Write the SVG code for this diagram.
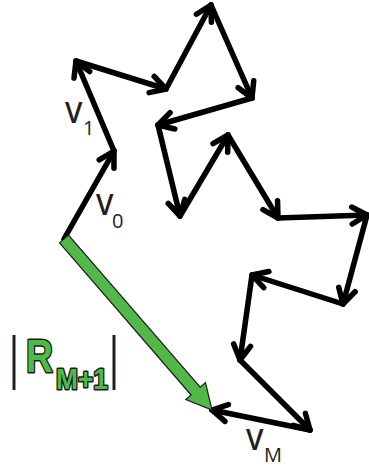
<svg xmlns="http://www.w3.org/2000/svg" width="369" height="469" viewBox="0 0 369 469">
<style>
.v{stroke:#000;stroke-width:5.5;stroke-linecap:round;fill:none;marker-end:url(#ah)}
.lbl{font-family:"Open Sans","DejaVu Sans",sans-serif;fill:#231f20;font-weight:600}
.big{font-size:28px}
.sub{font-size:20px;font-weight:normal}
.rg{font-family:"Liberation Sans","DejaVu Sans",sans-serif;font-weight:bold;fill:#4cbb47;stroke:#1a1a1a;stroke-width:3;paint-order:stroke;stroke-linejoin:round}
.bar{stroke:#231f20;stroke-width:3}
</style>
<defs>
<marker id="ah" markerUnits="userSpaceOnUse" orient="auto" markerWidth="30" markerHeight="30" refX="0" refY="0" viewBox="-20 -15 30 30" overflow="visible">
<path d="M-15,-8.5 L0,0 L-15,8.5" fill="none" stroke="#000" stroke-width="5.5" stroke-linecap="round" stroke-linejoin="round"/>
</marker>
</defs>
<g id="connectors">
<line class="v" x1="64" y1="239" x2="114" y2="151"/>
<line class="v" x1="114" y1="151" x2="76" y2="61"/>
<line class="v" x1="76" y1="61" x2="166" y2="89"/>
<line class="v" x1="166" y1="89" x2="211" y2="5"/>
<line class="v" x1="211" y1="5" x2="252" y2="98"/>
<line class="v" x1="252" y1="98" x2="158" y2="125"/>
<line class="v" x1="158" y1="125" x2="180" y2="216"/>
<line class="v" x1="180" y1="216" x2="228" y2="135"/>
<line class="v" x1="228" y1="135" x2="278" y2="218"/>
<line class="v" x1="278" y1="218" x2="367" y2="215"/>
<line class="v" x1="367" y1="215" x2="343" y2="304"/>
<line class="v" x1="343" y1="304" x2="252" y2="275"/>
<line class="v" x1="252" y1="275" x2="240" y2="360"/>
<line class="v" x1="240" y1="360" x2="310" y2="430"/>
<line class="v" x1="310" y1="430" x2="212" y2="410"/>
<polygon id="resultant" points="59.5,242.9 68.5,235.1 200.2,387.2 205.5,382.6 212,410 185.8,399.6 191.1,395.0" fill="#52b848" stroke="#1a1a1a" stroke-width="1.2" stroke-linejoin="miter"/>
</g>
<g id="label-v1" class="lbl"><text class="big" x="65" y="123">V</text><text class="sub" x="83" y="135">1</text></g>
<g id="label-v0" class="lbl"><text class="big" x="96" y="215">V</text><text class="sub" x="112" y="228">0</text></g>
<g id="label-vM" class="lbl"><text class="big" x="246" y="450">V</text><text class="sub" x="264" y="462">M</text></g>
<g id="label-R">
<line class="bar" x1="14" y1="335" x2="14" y2="390"/>
<line class="bar" x1="114" y1="335" x2="114" y2="390"/>
<text class="rg" x="26" y="372" font-size="47" textLength="27" lengthAdjust="spacingAndGlyphs">R</text>
<text class="rg" x="56" y="389" font-size="30" textLength="52" lengthAdjust="spacingAndGlyphs">M+1</text>
</g>
</svg>
